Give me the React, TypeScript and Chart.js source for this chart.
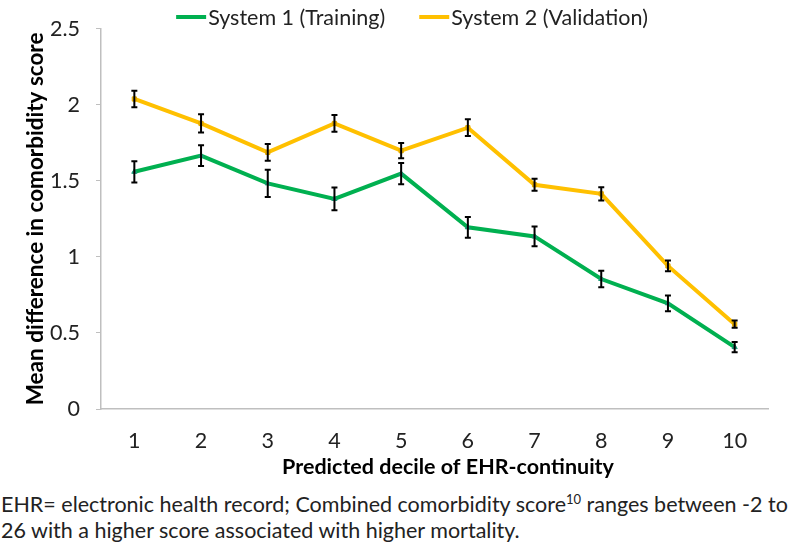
import React, { useEffect, useRef } from "react";
import { Chart, registerables } from "chart.js";

Chart.register(...registerables);

const deciles = ["1", "2", "3", "4", "5", "6", "7", "8", "9", "10"];
const system1Label = "System 1 (Training)";
const system2Label = "System 2 (Validation)";
const system1Mean = [1.56, 1.667, 1.484, 1.382, 1.548, 1.195, 1.135, 0.855, 0.695, 0.407];
const system1Err = [0.07, 0.068, 0.09, 0.075, 0.07, 0.068, 0.065, 0.055, 0.052, 0.033];
const system2Mean = [2.039, 1.878, 1.688, 1.878, 1.699, 1.85, 1.475, 1.415, 0.941, 0.558];
const system2Err = [0.055, 0.06, 0.055, 0.055, 0.05, 0.055, 0.04, 0.043, 0.035, 0.024];
const yTickValues = [0, 0.5, 1, 1.5, 2, 2.5];
const xTitle = "Predicted decile of EHR-continuity";

const FONT = "Lato, 'Noto Sans', sans-serif";
const GREEN = "#00B050";
const ORANGE = "#FFC000";
const FS = 21.5;

const errorBarPlugin = {
  id: "errorBars",
  afterDatasetsDraw(chart: any) {
    const ctx = chart.ctx;
    const y = chart.scales.y;
    const errs = [system1Err, system2Err];
    ctx.save();
    ctx.strokeStyle = "#000";
    ctx.lineWidth = 2;
    chart.data.datasets.forEach((ds: any, di: number) => {
      const meta = chart.getDatasetMeta(di);
      meta.data.forEach((pt: any, i: number) => {
        const v = ds.data[i];
        const e = errs[di][i];
        const top = y.getPixelForValue(v + e);
        const bot = y.getPixelForValue(v - e);
        const x = pt.x;
        ctx.beginPath();
        ctx.moveTo(x, top);
        ctx.lineTo(x, bot);
        ctx.moveTo(x - 3, top);
        ctx.lineTo(x + 3, top);
        ctx.moveTo(x - 3, bot);
        ctx.lineTo(x + 3, bot);
        ctx.stroke();
      });
    });
    ctx.restore();
  },
};

const legendPlugin = {
  id: "customLegend",
  afterDraw(chart: any) {
    const ctx = chart.ctx;
    ctx.save();
    ctx.font = `${FS}px ${FONT}`;
    ctx.textBaseline = "middle";
    const lineW = 30;
    const gap = 2;
    const itemGap = 34;
    const items = chart.data.datasets.map((ds: any) => ({
      label: ds.label,
      color: ds.borderColor,
      w: lineW + gap + ctx.measureText(ds.label).width,
    }));
    const total = items.reduce((s: number, it: any) => s + it.w, 0) + itemGap * (items.length - 1);
    let x = 412 - total / 2;
    const cy = 17;
    items.forEach((it: any) => {
      ctx.strokeStyle = it.color;
      ctx.lineWidth = 4;
      ctx.beginPath();
      ctx.moveTo(x, cy);
      ctx.lineTo(x + lineW, cy);
      ctx.stroke();
      ctx.fillStyle = "#222";
      ctx.fillText(it.label, x + lineW + gap, cy + 1);
      x += it.w + itemGap;
    });
    // x-axis title
    ctx.font = `bold ${FS}px ${FONT}`;
    ctx.fillStyle = "#000";
    ctx.textAlign = "center";
    ctx.fillText(xTitle, 448, 467);
    ctx.restore();
  },
};

export default function App() {
  const ref = useRef<HTMLCanvasElement>(null);
  useEffect(() => {
    document.body.style.margin = "0";
    const chart = new Chart(ref.current!, {
      type: "line",
      data: {
        labels: deciles,
        datasets: [
          {
            label: system1Label,
            data: system1Mean,
            borderColor: GREEN,
            backgroundColor: "#1E9A7A",
            borderWidth: 4,
            pointStyle: "triangle",
            pointRadius: 3,
            pointBorderWidth: 1,
            pointBorderColor: "#1E9A7A",
            tension: 0,
          },
          {
            label: system2Label,
            data: system2Mean,
            borderColor: ORANGE,
            backgroundColor: "#F5B400",
            borderWidth: 4,
            pointStyle: "rect",
            pointRadius: 3,
            pointBorderWidth: 1,
            pointBorderColor: "#E0A800",
            tension: 0,
          },
        ],
      },
      options: {
        animation: false,
        responsive: false,
        maintainAspectRatio: false,
        layout: { padding: { top: 22, right: 32, left: 0, bottom: 0 } },
        plugins: { legend: { display: false }, tooltip: { enabled: false } },
        scales: {
          x: {
            offset: true,
            grid: { display: true, drawOnChartArea: false, drawTicks: false },
            border: { display: true, color: "#BFBFBF", width: 1.5 },
            ticks: { font: { family: FONT, size: FS }, color: "#222", padding: 19, maxRotation: 0 },
            title: { display: false },
            afterFit(scale: any) {
              scale.height = 71;
            },
          },
          y: {
            min: 0,
            max: 2.5,
            afterBuildTicks(scale: any) {
              scale.ticks = yTickValues.map((v) => ({ value: v }));
            },
            grid: { display: true, drawOnChartArea: false, drawTicks: true, tickLength: 5, color: "#BFBFBF" },
            border: { display: true, color: "#BFBFBF", width: 1.5 },
            ticks: {
              font: { family: FONT, size: FS },
              color: "#222",
              padding: 16,
              callback: (v: any) => String(v),
            },
            title: {
              display: true,
              text: "Mean difference in comorbidity score",
              font: { family: FONT, size: FS + 1, weight: "bold" },
              color: "#000",
              padding: { top: 22, bottom: 0 },
            },
            afterFit(scale: any) {
              scale.width = 101;
            },
          },
        },
      },
      plugins: [errorBarPlugin, legendPlugin],
    });
    return () => chart.destroy();
  }, []);

  return (
    <div style={{ position: "relative", width: 800, height: 552, background: "#fff" }}>
      <canvas ref={ref} width={800} height={480} style={{ display: "block" }} />
      <div
        style={{
          position: "absolute",
          left: 1,
          top: 491,
          fontFamily: FONT,
          fontSize: FS,
          lineHeight: "26px",
          color: "#222",
          whiteSpace: "nowrap",
        }}
      >
        EHR= electronic health record; Combined comorbidity score
        <sup style={{ fontSize: 13, lineHeight: 0 }}>10</sup> ranges between -2 to
        <br />
        26 with a higher score associated with higher mortality.
      </div>
    </div>
  );
}
